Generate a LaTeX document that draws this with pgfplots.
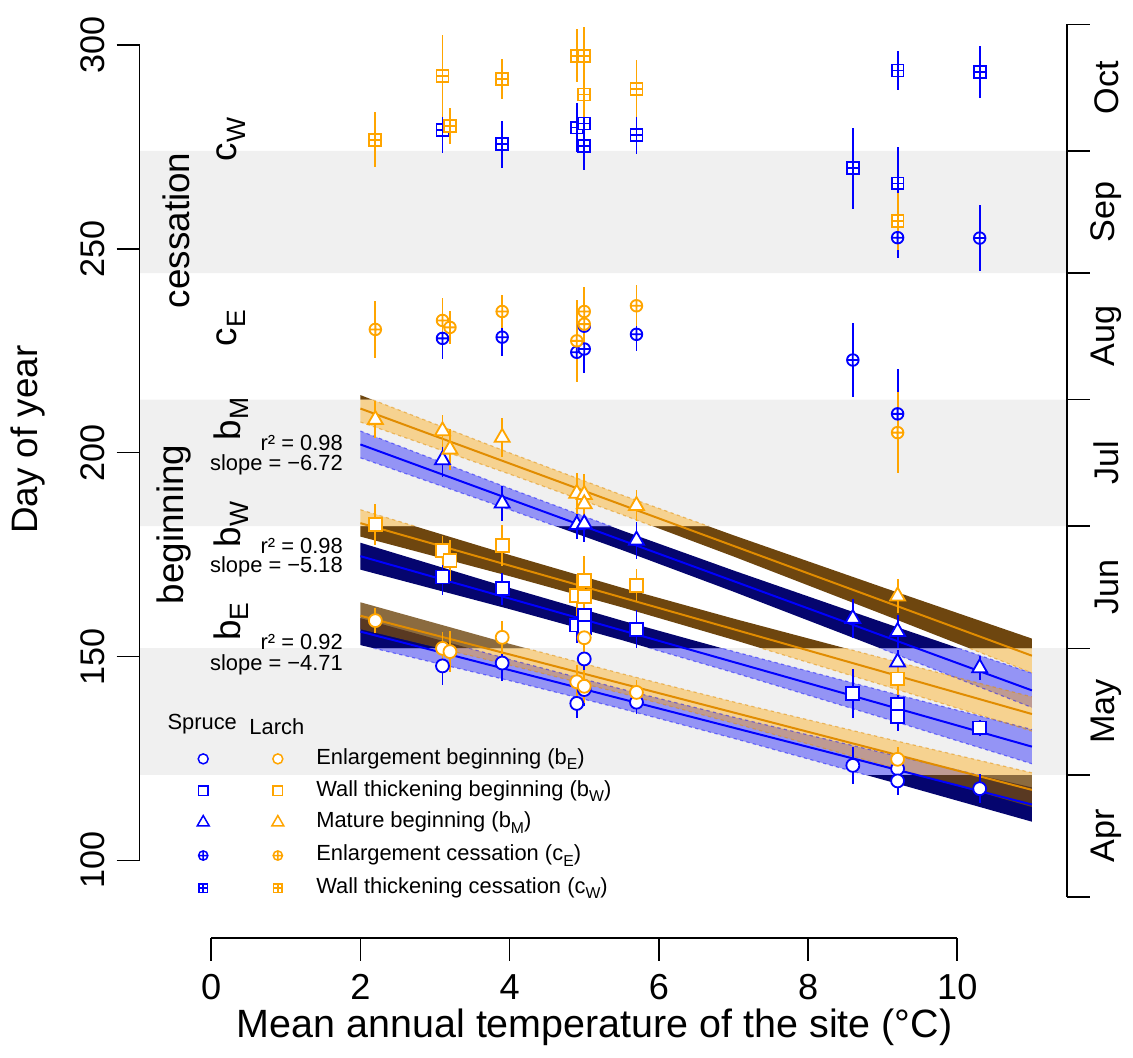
\documentclass[border=0pt]{standalone}
\usepackage{pgfplots}
\pgfplotsset{compat=1.18}
\usepackage{graphicx}
\usepackage{fontspec}
\setmainfont{Liberation Sans}

\definecolor{sblue}{RGB}{0,0,255}
\definecolor{lorange}{RGB}{255,165,0}
\definecolor{lline}{RGB}{225,140,0}
\definecolor{greyband}{RGB}{240,240,240}
\definecolor{navyband}{RGB}{5,5,110}
\definecolor{brownband}{RGB}{110,70,15}

\pgfdeclareplotmark{boxplus}{%
  \pgfpathrectangle{\pgfpoint{-\pgfplotmarksize}{-\pgfplotmarksize}}{\pgfpoint{2\pgfplotmarksize}{2\pgfplotmarksize}}%
  \pgfusepathqfillstroke
  \pgfpathmoveto{\pgfpoint{-\pgfplotmarksize}{0pt}}%
  \pgfpathlineto{\pgfpoint{\pgfplotmarksize}{0pt}}%
  \pgfpathmoveto{\pgfpoint{0pt}{-\pgfplotmarksize}}%
  \pgfpathlineto{\pgfpoint{0pt}{\pgfplotmarksize}}%
  \pgfusepathqstroke
}

\newcommand{\sub}[1]{\raisebox{-0.45ex}{\scalebox{0.72}{#1}}}
\newcommand{\tickf}{\fontsize{10.3}{12}\selectfont}
\newcommand{\xtickf}{\fontsize{10.9}{12}\selectfont}
\newcommand{\labf}{\fontsize{11.1}{13}\selectfont}
\newcommand{\xlabf}{\fontsize{11.9}{14}\selectfont}
\newcommand{\smallf}{\fontsize{6.6}{8}\selectfont}

\pgfplotsset{
  spr/.style={only marks, color=sblue, line width=0.55pt,
    mark options={fill=white, line width=0.55pt},
    error bars/y dir=both, error bars/y explicit, error bars/error mark=none,
    error bars/error bar style={line width=0.55pt}},
  lar/.style={only marks, color=lorange, line width=0.55pt,
    mark options={fill=white, line width=0.55pt},
    error bars/y dir=both, error bars/y explicit, error bars/error mark=none,
    error bars/error bar style={line width=0.55pt}},
  key/.style={only marks, line width=0.45pt, mark options={fill=white, line width=0.45pt}},
  sedge/.style={sblue, draw opacity=0.45, line width=0.35pt, dash pattern=on 1pt off 1pt},
  ledge/.style={lline, draw opacity=0.5, line width=0.35pt, dash pattern=on 1pt off 1pt},
}

\begin{document}
\begin{tikzpicture}
\begin{axis}[
  width=339.9pt, height=316.8pt, scale only axis,
  xmin=-2.8267, xmax=12.28, ymin=53.4, ymax=310.98,
  hide axis, clip=false,
]
\path (rel axis cs:0,0) rectangle (rel axis cs:1,1);

% grey month bands (May, Jul, Sep)
\addplot[fill=greyband, draw=none] coordinates {(-0.96,121) (11.467,121) (11.467,152) (-0.96,152)} -- cycle;
\addplot[fill=greyband, draw=none] coordinates {(-0.96,182) (11.467,182) (11.467,213) (-0.96,213)} -- cycle;
\addplot[fill=greyband, draw=none] coordinates {(-0.96,244) (11.467,244) (11.467,274) (-0.96,274)} -- cycle;

% confidence bands, dark where the background is white
\addplot[fill=navyband, draw=none] coordinates {(2,159.4) (4,149.28) (5.5,142.01) (7,135.14) (9,126.42) (11,117.9) (11,109.5) (9,119.82) (7,129.94) (5.5,137.21) (4,144.08) (2,152.8)} -- cycle;
\addplot[fill=navyband, draw=none] coordinates {(2,177.9) (4,166.82) (5.5,158.84) (7,151.26) (9,141.58) (11,132.1) (11,123.7) (9,134.98) (7,146.06) (5.5,154.04) (4,161.62) (2,171.3)} -- cycle;
\addplot[fill=navyband, draw=none] coordinates {(2,205.3) (4,191.2) (5.5,180.95) (7,171.1) (9,158.4) (11,145.9) (11,137.5) (9,151.8) (7,165.9) (5.5,176.15) (4,186.0) (2,198.7)} -- cycle;
\addplot[fill=brownband, fill opacity=0.8, draw=none] coordinates {(2,163.3) (4,153.11) (5.5,145.80) (7,138.88) (9,130.09) (11,121.5) (11,113.1) (9,123.49) (7,133.68) (5.5,141.00) (4,147.91) (2,156.7)} -- cycle;
\addplot[fill=brownband, draw=none] coordinates {(2,186.0) (4,174.9) (5.5,166.9) (7,159.3) (9,149.6) (11,140.1) (11,131.7) (9,143.0) (7,154.1) (5.5,162.1) (4,169.7) (2,179.4)} -- cycle;
\addplot[fill=brownband, draw=none] coordinates {(2,214.1) (4,199.93) (5.5,189.63) (7,179.73) (9,166.97) (11,154.4) (11,146.0) (9,160.37) (7,174.53) (5.5,184.83) (4,194.73) (2,207.5)} -- cycle;

% light bands inside the grey strips
\begin{scope}
\clip (axis cs:-0.96,121) rectangle (axis cs:11.467,152)
      (axis cs:-0.96,182) rectangle (axis cs:11.467,213)
      (axis cs:-0.96,244) rectangle (axis cs:11.467,274);
\addplot[fill=greyband, draw=none] coordinates {(-0.96,100) (11.467,100) (11.467,300) (-0.96,300)} -- cycle;
\addplot[fill=sblue, fill opacity=0.38, draw=none] coordinates {(2,159.4) (4,149.28) (5.5,142.01) (7,135.14) (9,126.42) (11,117.9) (11,109.5) (9,119.82) (7,129.94) (5.5,137.21) (4,144.08) (2,152.8)} -- cycle;
\addplot[fill=sblue, fill opacity=0.38, draw=none] coordinates {(2,177.9) (4,166.82) (5.5,158.84) (7,151.26) (9,141.58) (11,132.1) (11,123.7) (9,134.98) (7,146.06) (5.5,154.04) (4,161.62) (2,171.3)} -- cycle;
\addplot[fill=sblue, fill opacity=0.38, draw=none] coordinates {(2,205.3) (4,191.2) (5.5,180.95) (7,171.1) (9,158.4) (11,145.9) (11,137.5) (9,151.8) (7,165.9) (5.5,176.15) (4,186.0) (2,198.7)} -- cycle;
\addplot[fill=lorange, fill opacity=0.4, draw=none] coordinates {(2,163.3) (4,153.11) (5.5,145.80) (7,138.88) (9,130.09) (11,121.5) (11,113.1) (9,123.49) (7,133.68) (5.5,141.00) (4,147.91) (2,156.7)} -- cycle;
\addplot[fill=lorange, fill opacity=0.4, draw=none] coordinates {(2,186.0) (4,174.9) (5.5,166.9) (7,159.3) (9,149.6) (11,140.1) (11,131.7) (9,143.0) (7,154.1) (5.5,162.1) (4,169.7) (2,179.4)} -- cycle;
\addplot[fill=lorange, fill opacity=0.4, draw=none] coordinates {(2,214.1) (4,199.93) (5.5,189.63) (7,179.73) (9,166.97) (11,154.4) (11,146.0) (9,160.37) (7,174.53) (5.5,184.83) (4,194.73) (2,207.5)} -- cycle;
% dotted band edges
\addplot[sedge] coordinates {(2,159.4) (4,149.28) (5.5,142.01) (7,135.14) (9,126.42) (11,117.9)};
\addplot[sedge] coordinates {(2,152.8) (4,144.08) (5.5,137.21) (7,129.94) (9,119.82) (11,109.5)};
\addplot[sedge] coordinates {(2,177.9) (4,166.82) (5.5,158.84) (7,151.26) (9,141.58) (11,132.1)};
\addplot[sedge] coordinates {(2,171.3) (4,161.62) (5.5,154.04) (7,146.06) (9,134.98) (11,123.7)};
\addplot[sedge] coordinates {(2,205.3) (4,191.2) (5.5,180.95) (7,171.1) (9,158.4) (11,145.9)};
\addplot[sedge] coordinates {(2,198.7) (4,186.0) (5.5,176.15) (7,165.9) (9,151.8) (11,137.5)};
\addplot[ledge] coordinates {(2,163.3) (4,153.11) (5.5,145.80) (7,138.88) (9,130.09) (11,121.5)};
\addplot[ledge] coordinates {(2,156.7) (4,147.91) (5.5,141.00) (7,133.68) (9,123.49) (11,113.1)};
\addplot[ledge] coordinates {(2,186.0) (4,174.9) (5.5,166.9) (7,159.3) (9,149.6) (11,140.1)};
\addplot[ledge] coordinates {(2,179.4) (4,169.7) (5.5,162.1) (7,154.1) (9,143.0) (11,131.7)};
\addplot[ledge] coordinates {(2,214.1) (4,199.93) (5.5,189.63) (7,179.73) (9,166.97) (11,154.4)};
\addplot[ledge] coordinates {(2,207.5) (4,194.73) (5.5,184.83) (7,174.53) (9,160.37) (11,146.0)};
\end{scope}

% regression lines
\addplot[sblue, line width=0.6pt] coordinates {(2,156.1) (11,113.7)};
\addplot[sblue, line width=0.6pt] coordinates {(2,174.6) (11,127.9)};
\addplot[sblue, line width=0.6pt] coordinates {(2,202.0) (11,141.7)};
\addplot[lline, line width=0.6pt] coordinates {(2,160.0) (11,117.3)};
\addplot[lline, line width=0.6pt] coordinates {(2,182.7) (11,135.9)};
\addplot[lline, line width=0.6pt] coordinates {(2,210.8) (11,150.2)};

% spruce
\addplot[spr, mark=*, mark size=1.95pt] coordinates {
 (3.1,147.7) +- (0,4.7) (3.9,148.4) +- (0,4.3) (4.9,138.5) +- (0,3.5) (5.0,149.4) +- (0,3.5)
 (5.0,141.9) +- (0,4) (5.7,138.8) +- (0,3) (8.6,123.3) +- (0,4.6) (9.2,122.5) +- (0,3.5)
 (9.2,119.5) +- (0,3.5) (10.3,117.6) +- (0,3.5)};
\addplot[spr, mark=square*, mark size=1.95pt] coordinates {
 (3.1,169.5) +- (0,4.3) (3.9,166.6) +- (0,4) (4.9,157.7) +- (0,4.5) (5.0,160.1) +- (0,4)
 (5.0,157.2) +- (0,4) (5.7,156.7) +- (0,4.7) (8.6,140.9) +- (0,6) (9.2,138.2) +- (0,4)
 (9.2,135.2) +- (0,3.5) (10.3,132.5) +- (0,2)};
\addplot[spr, mark=triangle*, mark size=2.6pt] coordinates {
 (3.1,198.2) +- (0,4.3) (3.9,187.6) +- (0,4.3) (4.9,182.3) +- (0,3.5) (5.0,182.5) +- (0,4.5)
 (5.7,178.5) +- (0,4.6) (8.6,159.3) +- (0,4.7) (9.2,156.1) +- (0,4) (9.2,148.6) +- (0,3)
 (10.3,147.2) +- (0,3)};
\addplot[spr, mark=oplus*, mark size=1.75pt] coordinates {
 (3.1,228.0) +- (0,5) (3.9,228.3) +- (0,4.5) (4.9,224.6) +- (0,6) (5.0,225.4) +- (0,6)
 (5.0,231.0) +- (0,4) (5.7,229.0) +- (0,4) (8.6,222.7) +- (0,9) (9.2,209.5) +- (0,11)
 (9.2,252.7) +- (0,5) (10.3,252.6) +- (0,8)};
\addplot[spr, mark=boxplus, mark size=1.8pt] coordinates {
 (3.1,279.1) +- (0,5.7) (3.9,275.6) +- (0,5.7) (4.9,279.7) +- (0,6) (5.0,280.7) +- (0,6)
 (5.0,275.2) +- (0,6) (5.7,277.8) +- (0,4.5) (8.6,269.7) +- (0,10) (9.2,293.7) +- (0,4.8)
 (9.2,266.0) +- (0,9) (10.3,293.3) +- (0,6.4)};

% larch
\addplot[lar, mark=*, mark size=1.95pt] coordinates {
 (2.2,158.8) +- (0,3) (3.1,152.0) +- (0,4) (3.2,151.2) +- (0,5) (3.9,154.7) +- (0,4)
 (4.9,143.8) +- (0,4) (5.0,142.7) +- (0,4) (5.0,154.6) +- (0,4) (5.7,141.2) +- (0,3)
 (9.2,124.8) +- (0,3)};
\addplot[lar, mark=square*, mark size=1.95pt] coordinates {
 (2.2,182.3) +- (0,5) (3.1,176.0) +- (0,3.5) (3.2,173.6) +- (0,5) (3.9,177.2) +- (0,5)
 (4.9,165.0) +- (0,5) (5.0,168.7) +- (0,6) (5.0,164.8) +- (0,5) (5.7,167.5) +- (0,4)
 (9.2,144.5) +- (0,4)};
\addplot[lar, mark=triangle*, mark size=2.6pt] coordinates {
 (2.2,208.1) +- (0,4.5) (3.1,205.3) +- (0,4) (3.2,200.8) +- (0,5) (3.9,203.7) +- (0,4.7)
 (4.9,190.0) +- (0,5) (5.0,189.7) +- (0,5) (5.0,187.4) +- (0,5) (5.7,187.0) +- (0,3.8)
 (9.2,164.8) +- (0,4.2)};
\addplot[lar, mark=oplus*, mark size=1.75pt] coordinates {
 (2.2,230.2) +- (0,7) (3.1,232.4) +- (0,5.5) (3.2,230.7) +- (0,4) (3.9,234.6) +- (0,4)
 (4.9,227.4) +- (0,10) (5.0,234.6) +- (0,6) (5.0,231.5) +- (0,5) (5.7,236.0) +- (0,5)
 (9.2,204.9) +- (0,10)};
\addplot[lar, mark=boxplus, mark size=1.8pt] coordinates {
 (2.2,276.7) +- (0,6.7) (3.1,292.4) +- (0,10) (3.2,280.1) +- (0,4.5) (3.9,291.6) +- (0,5)
 (4.9,297.3) +- (0,6.5) (5.0,297.3) +- (0,7) (5.0,287.8) +- (0,8) (5.7,289.2) +- (0,7)
 (9.2,256.7) +- (0,7)};

% left axis
\draw[line width=0.5pt] (axis cs:-0.96,100) -- (axis cs:-0.96,300);
\pgfplotsinvokeforeach{100,150,200,250,300}{
  \draw[line width=0.5pt] (axis cs:-1.267,#1) -- (axis cs:-0.96,#1);
  \node[rotate=90, font=\tickf] at (axis cs:-1.587,#1) {#1};
}
\node[rotate=90, font=\labf] at (axis cs:-2.453,203.2) {Day of year};

% bottom axis
\draw[line width=0.5pt] (axis cs:0,81) -- (axis cs:10,81);
\pgfplotsinvokeforeach{0,2,4,6,8,10}{
  \draw[line width=0.5pt] (axis cs:#1,81) -- (axis cs:#1,75.4);
  \node[font=\xtickf] at (axis cs:#1,69) {#1};
}
\node[font=\xlabf] at (axis cs:5.14,59) {Mean annual temperature of the site (°C)};

% month axis
\draw[line width=0.5pt] (axis cs:11.467,91) -- (axis cs:11.467,305);
\pgfplotsinvokeforeach{91,121,152,182,213,244,274,305}{
  \draw[line width=0.5pt] (axis cs:11.467,#1) -- (axis cs:11.773,#1);
}
\node[rotate=90, font=\tickf] at (axis cs:12.0,106) {Apr};
\node[rotate=90, font=\tickf] at (axis cs:12.0,136.5) {May};
\node[rotate=90, font=\tickf] at (axis cs:12.0,167) {Jun};
\node[rotate=90, font=\tickf] at (axis cs:12.0,197.5) {Jul};
\node[rotate=90, font=\tickf] at (axis cs:12.0,228.5) {Aug};
\node[rotate=90, font=\tickf] at (axis cs:12.0,259) {Sep};
\node[rotate=90, font=\tickf] at (axis cs:12.0,289.5) {Oct};

% phase labels
\node[rotate=90, font=\labf] at (axis cs:-0.467,254.5) {cessation};
\node[rotate=90, font=\labf] at (axis cs:-0.493,182.4) {beginning};
\node[rotate=90, font=\labf] at (axis cs:0.267,276.8) {c\sub{W}};
\node[rotate=90, font=\labf] at (axis cs:0.267,230.5) {c\sub{E}};
\node[rotate=90, font=\labf] at (axis cs:0.267,208.3) {b\sub{M}};
\node[rotate=90, font=\labf] at (axis cs:0.267,182.4) {b\sub{W}};
\node[rotate=90, font=\labf] at (axis cs:0.267,158.5) {b\sub{E}};

% regression statistics
\node[anchor=east, font=\smallf, inner sep=0pt] at (axis cs:1.773,202.3) {r² = 0.98};
\node[anchor=east, font=\smallf, inner sep=0pt] at (axis cs:1.773,197.0) {slope = −6.72};
\node[anchor=east, font=\smallf, inner sep=0pt] at (axis cs:1.773,177.2) {r² = 0.98};
\node[anchor=east, font=\smallf, inner sep=0pt] at (axis cs:1.773,172.1) {slope = −5.18};
\node[anchor=east, font=\smallf, inner sep=0pt] at (axis cs:1.773,153.6) {r² = 0.92};
\node[anchor=east, font=\smallf, inner sep=0pt] at (axis cs:1.773,148.0) {slope = −4.71};

% legend
\node[font=\smallf] at (axis cs:-0.12,133.4) {Spruce};
\node[font=\smallf] at (axis cs:0.88,132.9) {Larch};
\addplot[key, sblue, mark=*, mark size=1.5pt] coordinates {(-0.107,124.9)};
\addplot[key, sblue, mark=square*, mark size=1.4pt] coordinates {(-0.107,117.1)};
\addplot[key, sblue, mark=triangle*, mark size=2.1pt] coordinates {(-0.107,109.3)};
\addplot[key, sblue, mark=oplus*, mark size=1.4pt] coordinates {(-0.107,101.2)};
\addplot[key, sblue, mark=boxplus, mark size=1.3pt] coordinates {(-0.107,93.2)};
\addplot[key, lorange, mark=*, mark size=1.5pt] coordinates {(0.893,124.9)};
\addplot[key, lorange, mark=square*, mark size=1.4pt] coordinates {(0.893,117.1)};
\addplot[key, lorange, mark=triangle*, mark size=2.1pt] coordinates {(0.893,109.3)};
\addplot[key, lorange, mark=oplus*, mark size=1.4pt] coordinates {(0.893,101.2)};
\addplot[key, lorange, mark=boxplus, mark size=1.3pt] coordinates {(0.893,93.2)};
\node[anchor=west, font=\smallf, inner sep=0pt] at (axis cs:1.4,124.9) {Enlargement beginning (b\sub{E})};
\node[anchor=west, font=\smallf, inner sep=0pt] at (axis cs:1.4,117.1) {Wall thickening beginning (b\sub{W})};
\node[anchor=west, font=\smallf, inner sep=0pt] at (axis cs:1.4,109.3) {Mature beginning (b\sub{M})};
\node[anchor=west, font=\smallf, inner sep=0pt] at (axis cs:1.4,101.2) {Enlargement cessation (c\sub{E})};
\node[anchor=west, font=\smallf, inner sep=0pt] at (axis cs:1.4,93.2) {Wall thickening cessation (c\sub{W})};
\end{axis}
\end{tikzpicture}
\end{document}
